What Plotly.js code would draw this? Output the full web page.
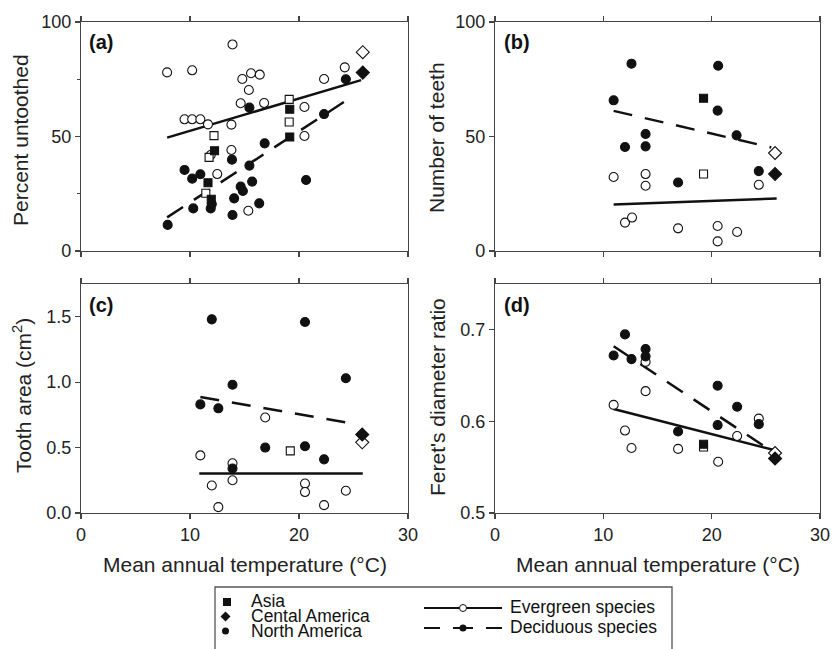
<!DOCTYPE html>
<html><head><meta charset="utf-8">
<script src="https://cdn.plot.ly/plotly-3.0.1.min.js"></script>
<style>html,body{margin:0;padding:0;background:#fff}</style>
</head><body><div id="chart" style="width:834px;height:649px"></div>
<script>
// ---------- Panel (a): Percent untoothed ----------
const aEverCircX = [7.9, 10.2, 13.9, 14.8, 15.6, 16.4, 15.4, 14.65, 16.8, 9.5, 10.2, 10.95, 11.65, 13.8, 22.3, 24.2, 20.5, 20.5, 13.8, 11.9, 12.5, 15.35];
const aEverCircY = [78.0, 78.9, 90.2, 75.1, 77.6, 77.0, 70.3, 64.5, 64.6, 57.5, 57.5, 57.5, 55.3, 55.2, 75.1, 80.2, 62.9, 50.2, 44.1, 41.9, 33.6, 17.6];
const aDecCircX = [15.45, 24.3, 22.3, 16.85, 13.85, 15.45, 9.5, 10.2, 10.95, 14.65, 14.85, 15.7, 20.65, 14.05, 16.35, 10.3, 11.9, 12.0, 13.9, 7.95];
const aDecCircY = [62.6, 75.0, 59.8, 47.0, 39.9, 37.3, 35.4, 31.6, 33.5, 28.1, 26.2, 30.3, 31.0, 23.0, 20.8, 18.6, 18.6, 20.5, 15.7, 11.4];
const aEverSqX = [12.2, 11.75, 11.45, 19.1, 19.1];
const aEverSqY = [50.4, 40.9, 25.2, 66.2, 56.3];
const aDecSqX = [12.25, 11.65, 11.95, 19.15, 19.15];
const aDecSqY = [43.8, 29.8, 22.6, 61.9, 49.8];
const aEverDiaX = [25.85], aEverDiaY = [86.8];
const aDecDiaX = [25.85], aDecDiaY = [77.9];
const aEverFitX = [7.9, 25.7], aEverFitY = [49.5, 74.6];
const aDecFitX = [7.9, 25.0], aDecFitY = [14.7, 67.8];

// ---------- Panel (b): Number of teeth ----------
const bDecCircX = [12.6, 20.6, 10.95, 20.55, 13.9, 12.0, 13.9, 22.3, 24.35, 16.9];
const bDecCircY = [81.8, 80.9, 65.8, 61.3, 51.1, 45.4, 45.7, 50.5, 34.9, 29.9];
const bEverCircX = [10.95, 13.9, 13.9, 24.35, 12.0, 12.65, 16.9, 20.55, 20.55, 22.35];
const bEverCircY = [32.3, 33.6, 28.5, 28.9, 12.4, 14.6, 9.9, 10.9, 4.2, 8.3];
const bEverSqX = [19.25], bEverSqY = [33.6];
const bDecSqX = [19.25], bDecSqY = [66.7];
const bEverDiaX = [25.85], bEverDiaY = [42.8];
const bDecDiaX = [25.85], bDecDiaY = [33.6];
const bEverFitX = [10.95, 26.0], bEverFitY = [20.3, 22.9];
const bDecFitX = [10.95, 25.5], bDecFitY = [61.2, 45.2];

// ---------- Panel (c): Tooth area ----------
const cDecCircX = [12.0, 20.55, 24.3, 13.9, 10.95, 12.6, 16.9, 20.55, 22.3, 13.9];
const cDecCircY = [1.48, 1.46, 1.03, 0.98, 0.83, 0.80, 0.50, 0.51, 0.41, 0.34];
const cEverCircX = [16.9, 10.95, 13.9, 13.9, 12.0, 20.55, 20.55, 24.3, 12.6, 22.3];
const cEverCircY = [0.73, 0.44, 0.38, 0.25, 0.21, 0.225, 0.16, 0.17, 0.045, 0.06];
const cEverSqX = [19.2], cEverSqY = [0.475];
const cDecSqX = [], cDecSqY = [];
const cEverDiaX = [25.8], cEverDiaY = [0.54];
const cDecDiaX = [25.8], cDecDiaY = [0.60];
const cEverFitX = [10.85, 25.85], cEverFitY = [0.302, 0.302];
const cDecFitX = [10.95, 25.0], cDecFitY = [0.887, 0.682];

// ---------- Panel (d): Feret's diameter ratio ----------
const dEverCircX = [10.95, 13.9, 13.9, 12.0, 12.6, 16.9, 20.6, 22.35, 24.35];
const dEverCircY = [0.618, 0.665, 0.633, 0.590, 0.571, 0.570, 0.556, 0.584, 0.603];
const dDecCircX = [12.0, 10.95, 12.6, 13.9, 13.9, 20.55, 22.35, 20.55, 24.35, 16.9];
const dDecCircY = [0.695, 0.672, 0.668, 0.679, 0.671, 0.639, 0.616, 0.596, 0.597, 0.589];
const dEverSqX = [19.25], dEverSqY = [0.572];
const dDecSqX = [19.25], dDecSqY = [0.575];
const dEverDiaX = [25.85], dEverDiaY = [0.5655];
const dDecDiaX = [25.85], dDecDiaY = [0.5595];
const dEverFitX = [10.95, 25.85], dEverFitY = [0.6135, 0.5685];
const dDecFitX = [10.95, 25.85], dDecFitY = [0.682, 0.565];

// ---------- Tick labels / text ----------
const xTicks = [0, 10, 20, 30];
const yTicksA = [0, 50, 100], yMinorA = [25, 75];
const yTicksB = [0, 50, 100];
const yTicksC = [0, 0.5, 1.0, 1.5], yTextC = ['0.0', '0.5', '1.0', '1.5'];
const yTicksD = [0.5, 0.6, 0.7], yTextD = ['0.5', '0.6', '0.7'];
const panelLabels = ['(a)', '(b)', '(c)', '(d)'];
const yTitles = ['Percent untoothed', 'Number of teeth', 'Tooth area (cm<sup>2</sup>)', "Feret's diameter ratio"];
const xTitle = 'Mean annual temperature (°C)';
const legendRegions = ['Asia', 'Cental America', 'North America'];
const legendTypes = ['Evergreen species', 'Deciduous species'];

// ---------- Build ----------
const FONT = 'Liberation Sans, Arial, Helvetica, sans-serif';
const INK = '#111';
const W = 834, H = 649;
const px = v => v / W, py = v => 1 - v / H;

function fit(xa, ya, x, y, dashed) {
  return {x, y, xaxis: xa, yaxis: ya, type: 'scatter', mode: 'lines', showlegend: false, hoverinfo: 'skip',
    line: {color: INK, width: 2.5, dash: dashed ? '19px,13px' : 'solid'}};
}
function pts(xa, ya, x, y, symbol, filled, size) {
  return {x, y, xaxis: xa, yaxis: ya, type: 'scatter', mode: 'markers', showlegend: false, cliponaxis: false,
    marker: {symbol, size, color: filled ? INK : '#fff', line: {color: INK, width: 1.1}}};
}
function panel(xa, ya, p) {
  return [
    fit(xa, ya, p.efx, p.efy, false),
    fit(xa, ya, p.dfx, p.dfy, true),
    pts(xa, ya, p.ecx, p.ecy, 'circle', false, 9),
    pts(xa, ya, p.dcx, p.dcy, 'circle', true, 9),
    pts(xa, ya, p.esx, p.esy, 'square', false, 8),
    pts(xa, ya, p.dsx, p.dsy, 'square', true, 8),
    pts(xa, ya, p.edx, p.edy, 'diamond', false, 10),
    pts(xa, ya, p.ddx, p.ddy, 'diamond', true, 10)
  ];
}

const data = [].concat(
  panel('x', 'y', {efx: aEverFitX, efy: aEverFitY, dfx: aDecFitX, dfy: aDecFitY, ecx: aEverCircX, ecy: aEverCircY, dcx: aDecCircX, dcy: aDecCircY,
    esx: aEverSqX, esy: aEverSqY, dsx: aDecSqX, dsy: aDecSqY, edx: aEverDiaX, edy: aEverDiaY, ddx: aDecDiaX, ddy: aDecDiaY}),
  panel('x2', 'y2', {efx: bEverFitX, efy: bEverFitY, dfx: bDecFitX, dfy: bDecFitY, ecx: bEverCircX, ecy: bEverCircY, dcx: bDecCircX, dcy: bDecCircY,
    esx: bEverSqX, esy: bEverSqY, dsx: bDecSqX, dsy: bDecSqY, edx: bEverDiaX, edy: bEverDiaY, ddx: bDecDiaX, ddy: bDecDiaY}),
  panel('x3', 'y3', {efx: cEverFitX, efy: cEverFitY, dfx: cDecFitX, dfy: cDecFitY, ecx: cEverCircX, ecy: cEverCircY, dcx: cDecCircX, dcy: cDecCircY,
    esx: cEverSqX, esy: cEverSqY, dsx: cDecSqX, dsy: cDecSqY, edx: cEverDiaX, edy: cEverDiaY, ddx: cDecDiaX, ddy: cDecDiaY}),
  panel('x4', 'y4', {efx: dEverFitX, efy: dEverFitY, dfx: dDecFitX, dfy: dDecFitY, ecx: dEverCircX, ecy: dEverCircY, dcx: dDecCircX, dcy: dDecCircY,
    esx: dEverSqX, esy: dEverSqY, dsx: dDecSqX, dsy: dDecSqY, edx: dEverDiaX, edy: dEverDiaY, ddx: dDecDiaX, ddy: dDecDiaY})
);

const tickFont = {family: FONT, size: 18, color: '#222'};
function xax(dom, anchor, labels) {
  return {domain: dom, anchor, range: [0, 30], tickmode: 'array', tickvals: xTicks, showticklabels: labels,
    ticks: 'outside', ticklen: 5, tickwidth: 1.2, tickcolor: '#444', showline: true, linecolor: '#444', linewidth: 1.2,
    mirror: 'ticks', showgrid: false, zeroline: false, tickfont: tickFont, fixedrange: true};
}
function yax(dom, anchor, range, vals, text, minor) {
  const o = {domain: dom, anchor, range, tickmode: 'array', tickvals: vals,
    ticks: 'outside', ticklen: 5, tickwidth: 1.2, tickcolor: '#444', showline: true, linecolor: '#444', linewidth: 1.2,
    mirror: true, showgrid: false, zeroline: false, tickfont: tickFont, fixedrange: true};
  if (text) o.ticktext = text;
  if (minor) o.minor = {tickmode: 'array', tickvals: minor, ticks: 'outside', ticklen: 3, tickwidth: 1.2, tickcolor: '#444', showgrid: false};
  return o;
}
const xL = [px(81), px(408)], xR = [px(495), px(820)];
const yT = [py(251), py(22)], yB = [py(513), py(284)];

const annotations = [];
const labPos = [[87, 42], [502, 42], [87, 305], [502, 305]];
panelLabels.forEach((t, i) => annotations.push({text: '<b>' + t + '</b>', xref: 'paper', yref: 'paper',
  x: px(labPos[i][0]), y: py(labPos[i][1]), xanchor: 'left', yanchor: 'middle', showarrow: false,
  font: {family: FONT, size: 20, color: '#111'}}));
const ytPos = [[21, 140], [437, 137], [22, 396], [437, 397]];
yTitles.forEach((t, i) => annotations.push({text: t, xref: 'paper', yref: 'paper', textangle: -90,
  x: px(ytPos[i][0]), y: py(ytPos[i][1]), xanchor: 'center', yanchor: 'middle', showarrow: false,
  font: {family: FONT, size: 21, color: '#222'}}));
[[245, 564], [658, 564]].forEach(p => annotations.push({text: xTitle, xref: 'paper', yref: 'paper',
  x: px(p[0]), y: py(p[1]), xanchor: 'center', yanchor: 'middle', showarrow: false,
  font: {family: FONT, size: 21, color: '#222'}}));
const legFont = {family: FONT, size: 17.5, color: '#111'};
const regY = [601, 616, 631];
legendRegions.forEach((t, i) => annotations.push({text: t, xref: 'paper', yref: 'paper', x: px(249), y: py(regY[i]),
  xanchor: 'left', yanchor: 'middle', showarrow: false, font: legFont}));
const typY = [607, 627];
legendTypes.forEach((t, i) => annotations.push({text: t, xref: 'paper', yref: 'paper', x: px(508), y: py(typY[i]),
  xanchor: 'left', yanchor: 'middle', showarrow: false, font: legFont}));

const P = (x, y) => px(x) + ',' + py(y);
const shapes = [
  {type: 'rect', xref: 'paper', yref: 'paper', x0: px(215), x1: px(672), y0: py(587), y1: py(700), line: {color: '#555', width: 1.3}},
  {type: 'rect', xref: 'paper', yref: 'paper', x0: px(223), x1: px(231), y0: py(598), y1: py(606), fillcolor: INK, line: {width: 0}},
  {type: 'path', xref: 'paper', yref: 'paper', path: 'M' + P(225.5, 611.5) + ' L' + P(230.5, 616.5) + ' L' + P(225.5, 621.5) + ' L' + P(220.5, 616.5) + ' Z', fillcolor: INK, line: {width: 0}},
  {type: 'circle', xref: 'paper', yref: 'paper', x0: px(222), x1: px(229), y0: py(627.5), y1: py(634.5), fillcolor: INK, line: {width: 0}},
  {type: 'line', xref: 'paper', yref: 'paper', x0: px(424), x1: px(502), y0: py(608), y1: py(608), line: {color: INK, width: 2}},
  {type: 'circle', xref: 'paper', yref: 'paper', x0: px(459.5), x1: px(466.5), y0: py(604.5), y1: py(611.5), fillcolor: '#fff', line: {color: INK, width: 1}},
  {type: 'line', xref: 'paper', yref: 'paper', x0: px(424), x1: px(440), y0: py(628), y1: py(628), line: {color: INK, width: 2}},
  {type: 'line', xref: 'paper', yref: 'paper', x0: px(453), x1: px(473), y0: py(628), y1: py(628), line: {color: INK, width: 2}},
  {type: 'line', xref: 'paper', yref: 'paper', x0: px(486), x1: px(502), y0: py(628), y1: py(628), line: {color: INK, width: 2}},
  {type: 'circle', xref: 'paper', yref: 'paper', x0: px(459.5), x1: px(466.5), y0: py(624.5), y1: py(631.5), fillcolor: INK, line: {width: 0}}
];

const layout = {
  width: W, height: H, margin: {l: 0, r: 0, t: 0, b: 0}, paper_bgcolor: '#fff', plot_bgcolor: '#fff',
  showlegend: false, font: {family: FONT},
  xaxis: xax(xL, 'y', false), yaxis: yax(yT, 'x', [0, 100], yTicksA, null, yMinorA),
  xaxis2: xax(xR, 'y2', false), yaxis2: yax(yT, 'x2', [0, 100], yTicksB, null, null),
  xaxis3: xax(xL, 'y3', true), yaxis3: yax(yB, 'x3', [0, 1.75], yTicksC, yTextC, null),
  xaxis4: xax(xR, 'y4', true), yaxis4: yax(yB, 'x4', [0.5, 0.75], yTicksD, yTextD, null),
  annotations, shapes
};
Plotly.newPlot('chart', data, layout, {staticPlot: true, displayModeBar: false});
</script></body></html>
